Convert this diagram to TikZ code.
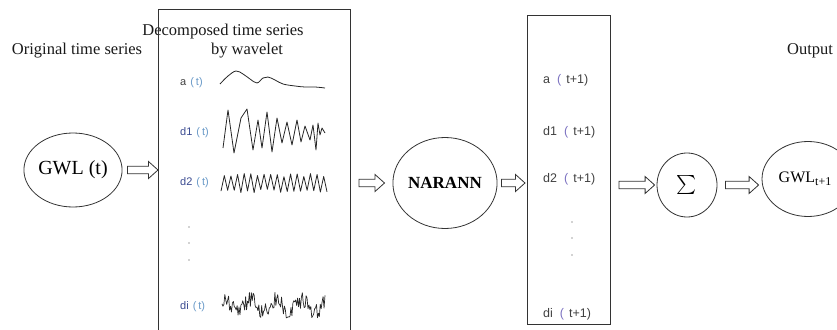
\documentclass[tikz,border=0pt]{standalone}
\usepackage{fontspec}
\usepackage{graphicx}
\setmainfont{Liberation Serif}
\newfontfamily\arialf{Liberation Sans}
\usetikzlibrary{calc,shapes.geometric}
\definecolor{lblgray}{HTML}{404040}
\definecolor{lblblue}{HTML}{6A9AC8}
\definecolor{lbldblue}{HTML}{3A4A90}
\definecolor{parpurple}{HTML}{7A70C0}
\definecolor{linegray}{HTML}{333333}
\newcommand\hollowarrow[2]{%
  \draw[harrowst] let \p1=#1, \p2=#2 in
  (\x1,\y1+3.8pt) -- (\x2-9.5pt,\y1+3.8pt) -- (\x2-9.5pt,\y1+8.5pt) -- (\x2,\y1)
  -- (\x2-9.5pt,\y1-8.5pt) -- (\x2-9.5pt,\y1-3.8pt) -- (\x1,\y1-3.8pt) -- cycle;}
\begin{document}
\begin{tikzpicture}[x=1pt,y=-1pt,
  oval/.style={ellipse, draw=linegray, line width=0.8pt, inner sep=0pt},
  boxst/.style={rectangle, draw=linegray, line width=1pt, inner sep=0pt},
  harrowst/.style={draw=linegray, line width=0.8pt, fill=white},
  ttl/.style={font=\fontsize{16.5}{16.5}\selectfont, text=black!90, inner sep=0pt},
  lblA/.style={font=\arialf\fontsize{11}{11}\selectfont, text=lblgray, anchor=west, inner sep=0pt},
  lblB/.style={font=\arialf\fontsize{12.5}{12.5}\selectfont, text=lblgray, anchor=west, inner sep=0pt},
  wave/.style={line width=0.8pt, black!85, line join=round},
  dotst/.style={fill=lblgray, circle, inner sep=0pt, minimum size=1.4pt}]
\useasboundingbox (0,0) rectangle (837,329);
\clip (0,0) rectangle (837,329);

% titles
\node[ttl] (t1) at (77,51) {Original time series};
\node[ttl] (t2) at (223,32) {Decomposed time series};
\node[ttl] (t3) at (247,51) {by wavelet};
\node[ttl] (t4) at (810,51) {Output};

% boxes
\node[boxst, minimum width=192pt, minimum height=335pt, anchor=north west] (box1) at (158,9) {};
\node[boxst, minimum width=83pt, minimum height=309pt, anchor=north west] (box2) at (527,15) {};

% ovals
\node[oval, minimum width=82pt, minimum height=74pt, font=\fontsize{20}{20}\selectfont] (gwl) at (73,170) {GWL (t)};
\node[oval, minimum width=85pt, minimum height=91pt, font=\bfseries\fontsize{17}{17}\selectfont] (nar) at (445,183) {NARANN};
\node[oval, minimum width=60pt, minimum height=64pt] (sum) at (687,185) {\scalebox{1.9}{$\sum$}};
\node[oval, minimum width=92pt, minimum height=75pt, font=\fontsize{16}{16}\selectfont] (out) at (808,179)
  {GWL\raisebox{-3pt}{\fontsize{12}{12}\selectfont t+1}\hspace*{6pt}};

% hollow arrows
\hollowarrow{($(gwl.east)+(5pt,0)$)}{(box1.west)}
\hollowarrow{($(box1.east|-nar.west)+(8pt,0)$)}{($(nar.west)+(-8pt,0)$)}
\hollowarrow{($(nar.east)+(4pt,0)$)}{($(box2.west)+(-2pt,0)$)}
\hollowarrow{($(box2.east|-sum.west)+(8pt,0)$)}{($(sum.west)+(-2pt,0)$)}
\hollowarrow{($(sum.east)+(8pt,0)$)}{($(out.west)+(-3pt,0)$)}

% labels in box 1
\node[lblA] (la) at (180,83) {a\hspace{4pt}\textcolor{lblblue}{(\hspace{2pt}t)}};
\node[lblA] (ld1) at (180,133) {\textcolor{lbldblue}{d1}\hspace{4pt}\textcolor{lblblue}{(\hspace{2pt}t)}};
\node[lblA] (ld2) at (180,183) {\textcolor{lbldblue}{d2}\hspace{4pt}\textcolor{lblblue}{(\hspace{2pt}t)}};
\node[lblA] (ldi) at (180,307) {\textcolor{lbldblue}{di}\hspace{4pt}\textcolor{lblblue}{(\hspace{2pt}t)}};
\node[dotst] (p1) at (189,227) {};
\node[dotst] (p2) at (189,243) {};
\node[dotst] (p3) at (189,260) {};

% waveforms
\draw[wave] plot[smooth, tension=0.6] coordinates {(220,84) (228,76) (236,71) (243,74) (250,79) (257,83) (263,78) (268,77) (275,80) (283,84) (295,86) (305,87) (315,87) (325,88)};
\draw[wave] (223,148) -- (228,110) -- (234,153) -- (241,118) -- (247,109) -- (253,150) -- (258,120) -- (262,148) -- (267,112) -- (272,152) -- (277,118) -- (282,143) -- (287,122) -- (292,145) -- (297,120) -- (301,142) -- (305,126) -- (310,140) -- (313,125) -- (316,150) -- (318,123) -- (320,135) -- (322,128) -- (325,133);
\pgfmathsetseed{11}
\draw[wave] plot[domain=221:327, samples=33] (\x,{183+(8+2*rand)*cos((\x-221)/3.3125*180)});
\draw[wave, line width=0.7pt] plot[domain=222:325, samples=110] (\x,{306+6*sin(14*\x)+8*rand});

% labels in box 2
\node[lblB] (ra) at (543,80) {a\hspace{7pt}\textcolor{parpurple}{(}\hspace{5pt}t+1)};
\node[lblB] (rd1) at (543,132) {d1\hspace{7pt}\textcolor{parpurple}{(}\hspace{5pt}t+1)};
\node[lblB] (rd2) at (543,179) {d2\hspace{7pt}\textcolor{parpurple}{(}\hspace{5pt}t+1)};
\node[lblB] (rdi) at (543,314) {di\hspace{7pt}\textcolor{parpurple}{(}\hspace{5pt}t+1)};
\node[dotst] (q1) at (572,222) {};
\node[dotst] (q2) at (572,238) {};
\node[dotst] (q3) at (572,255) {};
\end{tikzpicture}
\end{document}
